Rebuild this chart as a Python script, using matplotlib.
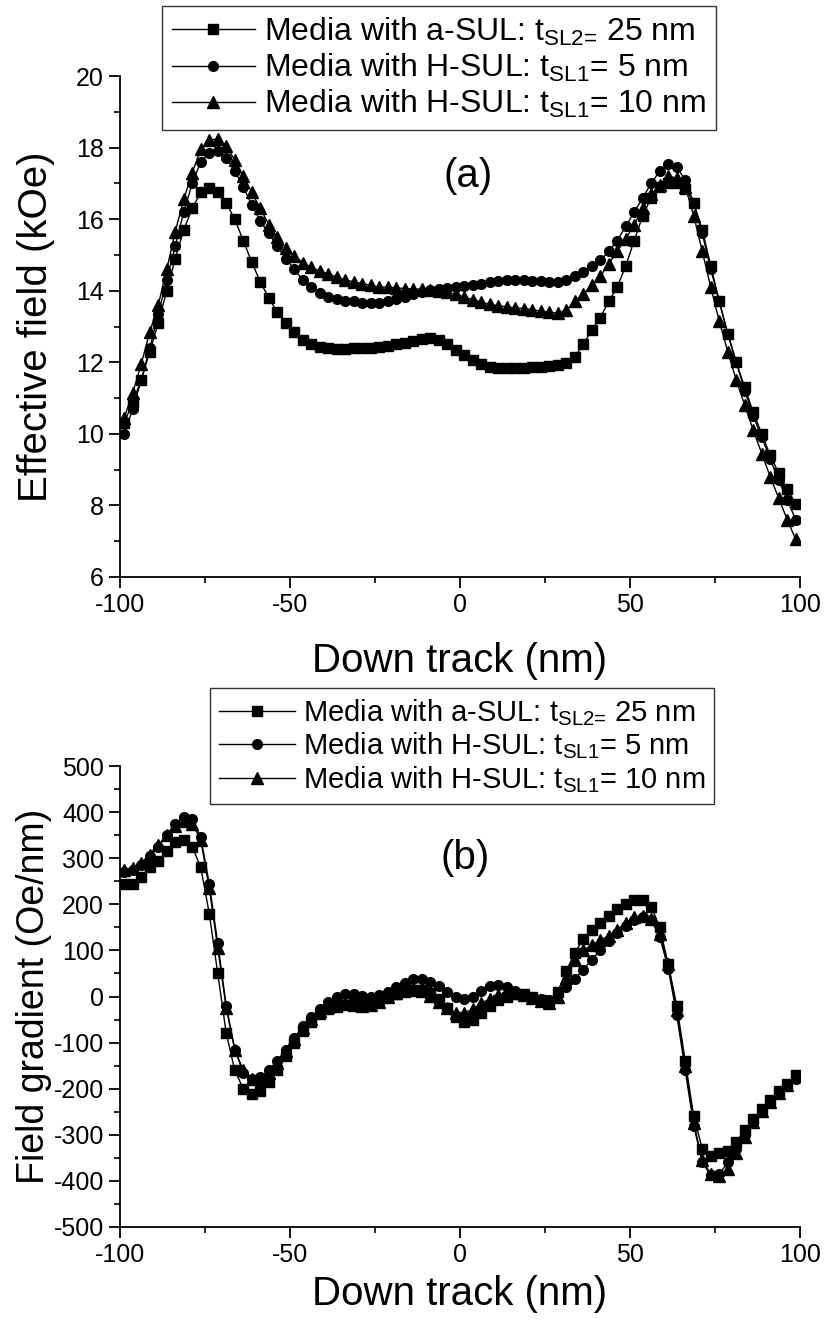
import numpy as np
import matplotlib
matplotlib.use("Agg")
import matplotlib.pyplot as plt
from matplotlib.ticker import MultipleLocator

plt.rcParams['font.family'] = ['Liberation Sans', 'DejaVu Sans']
plt.rcParams['mathtext.fontset'] = 'custom'
plt.rcParams['mathtext.rm'] = 'Liberation Sans'
plt.rcParams['axes.unicode_minus'] = False

# down-track sample positions (nm)
x = np.arange(-98.75, 100, 2.5)

labels = [r'Media with a-SUL: t$_{\text{SL2=}}$ 25 nm',
          r'Media with H-SUL: t$_{\mathregular{SL1}}$= 5 nm',
          r'Media with H-SUL: t$_{\mathregular{SL1}}$= 10 nm']

# effective field (kOe)
field_a = [10.3, 10.9, 11.5, 12.3, 13.1, 14.0, 14.9, 15.7, 16.3, 16.75,
           16.87, 16.75, 16.45, 16.0, 15.4, 14.8, 14.25, 13.8, 13.4, 13.1,
           12.85, 12.62, 12.5, 12.43, 12.4, 12.38, 12.38, 12.4, 12.4, 12.41,
           12.42, 12.45, 12.5, 12.55, 12.6, 12.65, 12.67, 12.62, 12.5, 12.35,
           12.2, 12.05, 11.95, 11.88, 11.85, 11.83, 11.83, 11.85, 11.86, 11.88,
           11.9, 11.92, 11.98, 12.15, 12.5, 12.9, 13.25, 13.7, 14.1, 14.7,
           15.4, 16.1, 16.6, 16.9, 17.0, 17.0, 16.85, 16.45, 15.7, 14.7,
           13.7, 12.8, 12.0, 11.3, 10.6, 10.0, 9.4, 8.9, 8.45, 8.05]
field_h5 = [10.0, 10.7, 11.5, 12.4, 13.35, 14.3, 15.25, 16.2, 17.0, 17.6,
            17.85, 17.9, 17.7, 17.35, 16.9, 16.4, 15.95, 15.6, 15.25, 14.9,
            14.6, 14.3, 14.1, 13.95, 13.83, 13.76, 13.72, 13.7, 13.67, 13.65,
            13.66, 13.7, 13.76, 13.83, 13.9, 13.96, 14.02, 14.06, 14.08, 14.1,
            14.12, 14.15, 14.2, 14.25, 14.28, 14.3, 14.3, 14.29, 14.28, 14.26,
            14.24, 14.25, 14.3, 14.4, 14.52, 14.68, 14.85, 15.1, 15.4, 15.8,
            16.2, 16.6, 17.0, 17.35, 17.55, 17.45, 17.1, 16.45, 15.6, 14.6,
            13.7, 12.8, 12.0, 11.2, 10.5, 9.9, 9.3, 8.7, 8.15, 7.6]
field_h10 = [10.45, 11.15, 11.95, 12.85, 13.6, 14.6, 15.65, 16.55, 17.3, 17.95,
             18.2, 18.25, 18.05, 17.65, 17.2, 16.75, 16.3, 15.85, 15.5, 15.2,
             14.98, 14.78, 14.65, 14.55, 14.47, 14.38, 14.3, 14.25, 14.2, 14.15,
             14.1, 14.1, 14.08, 14.06, 14.05, 14.04, 14.02, 14.0, 13.96, 13.9,
             13.82, 13.75, 13.68, 13.62, 13.58, 13.55, 13.52, 13.5, 13.47, 13.43,
             13.4, 13.38, 13.45, 13.7, 13.9, 14.15, 14.4, 14.75, 15.1, 15.45,
             15.85, 16.3, 16.7, 16.95, 17.2, 17.15, 16.9, 16.1, 15.1, 14.1,
             13.15, 12.3, 11.5, 10.8, 10.1, 9.45, 8.8, 8.2, 7.6, 7.05]

# field gradient (Oe/nm)
grad_a = [245, 245, 260, 280, 295, 315, 335, 340, 325, 280,
          180, 50, -80, -160, -200, -212, -205, -185, -160, -130,
          -100, -75, -55, -38, -28, -22, -18, -15, -12, -10,
          -5, 0, 5, 10, 15, 15, 8, -5, -25, -45,
          -55, -50, -35, -20, -8, 0, 5, 5, 0, -8,
          -10, 10, 55, 95, 125, 145, 160, 175, 190, 200,
          210, 210, 195, 150, 70, -20, -140, -260, -330, -345,
          -340, -335, -315, -290, -265, -245, -225, -205, -190, -170]
grad_h5 = [270, 275, 285, 305, 325, 350, 375, 390, 385, 345,
           245, 115, -20, -115, -165, -180, -175, -160, -140, -115,
           -90, -65, -45, -28, -12, -2, 5, 5, 2, 0,
           3, 10, 20, 30, 37, 38, 32, 22, 10, 0,
           -5, 0, 12, 22, 25, 20, 12, 5, 0, -5,
           -8, 5, 20, 38, 58, 80, 100, 120, 138, 152,
           165, 172, 165, 130, 60, -40, -160, -280, -360, -388,
           -385, -360, -330, -300, -270, -248, -228, -210, -195, -178]
grad_h10 = [275, 278, 290, 308, 328, 350, 370, 380, 375, 340,
            235, 105, -25, -115, -160, -178, -178, -165, -145, -118,
            -92, -68, -48, -32, -22, -16, -15, -18, -20, -18,
            -12, -2, 8, 14, 15, 12, 2, -12, -26, -35,
            -35, -28, -15, -5, 3, 8, 8, 3, -3, -10,
            -15, 0, 40, 80, 100, 112, 122, 132, 145, 160,
            172, 175, 168, 135, 70, -30, -150, -275, -355, -385,
            -390, -375, -340, -305, -272, -248, -228, -210, -192, -172]

markers = ['s', 'o', '^']

fig = plt.figure(figsize=(8.27, 13.31), dpi=100)
ax1 = fig.add_axes([120/827, 1-577/1331, 680/827, 501/1331])
ax2 = fig.add_axes([120/827, 1-1227/1331, 680/827, 461/1331])


def style_axes(ax, label_y):
    for side in ['top', 'right']:
        ax.spines[side].set_visible(False)
    for side in ['left', 'bottom']:
        ax.spines[side].set_linewidth(1.3)
    ax.tick_params(which='major', direction='out', length=8, width=1.3,
                   labelsize=18, colors='black')
    ax.tick_params(which='minor', direction='out', length=4.5, width=1.2)
    ax.set_xlim(-100, 100)
    ax.xaxis.set_major_locator(MultipleLocator(50))
    ax.xaxis.set_minor_locator(MultipleLocator(25))
    ax.set_xlabel('Down track (nm)', fontsize=29)
    ax.xaxis.set_label_coords(0.5, label_y)


def draw_series(ax, series):
    for ys, m, lab in zip(series, markers, labels):
        ax.plot(x, ys, color='black', lw=1.0, marker=m,
                ms=8 if m == '^' else 7, label=lab)


draw_series(ax1, [field_a, field_h5, field_h10])
style_axes(ax1, -0.13)
ax1.set_ylim(6, 20)
ax1.yaxis.set_major_locator(MultipleLocator(2))
ax1.yaxis.set_minor_locator(MultipleLocator(1))
ax1.set_ylabel('Effective field (kOe)', fontsize=29)
ax1.yaxis.set_label_coords(-0.095, 0.5)
ax1.text(2.5, 17.2, '(a)', fontsize=29, ha='center', va='center')
ax1.legend(loc='upper left', bbox_to_anchor=(162/827, 1-6/1331),
           bbox_transform=fig.transFigure, fontsize=23, frameon=True,
           fancybox=False, edgecolor='#333333', framealpha=1,
           handlelength=2.6, labelspacing=0.12, borderpad=0.3,
           handletextpad=0.3, borderaxespad=0)

draw_series(ax2, [grad_a, grad_h5, grad_h10])
style_axes(ax2, -0.105)
ax2.set_ylim(-500, 500)
ax2.yaxis.set_major_locator(MultipleLocator(100))
ax2.yaxis.set_minor_locator(MultipleLocator(50))
ax2.set_ylabel('Field gradient (Oe/nm)', fontsize=27)
ax2.yaxis.set_label_coords(-0.1, 0.5)
ax2.text(1.5, 300, '(b)', fontsize=29, ha='center', va='center')
ax2.legend(loc='upper left', bbox_to_anchor=(210/827, 1-688/1331),
           bbox_transform=fig.transFigure, fontsize=21, frameon=True,
           fancybox=False, edgecolor='#333333', framealpha=1,
           handlelength=2.6, labelspacing=0.1, borderpad=0.3,
           handletextpad=0.3, borderaxespad=0)

fig.savefig('out.png', dpi=100)
